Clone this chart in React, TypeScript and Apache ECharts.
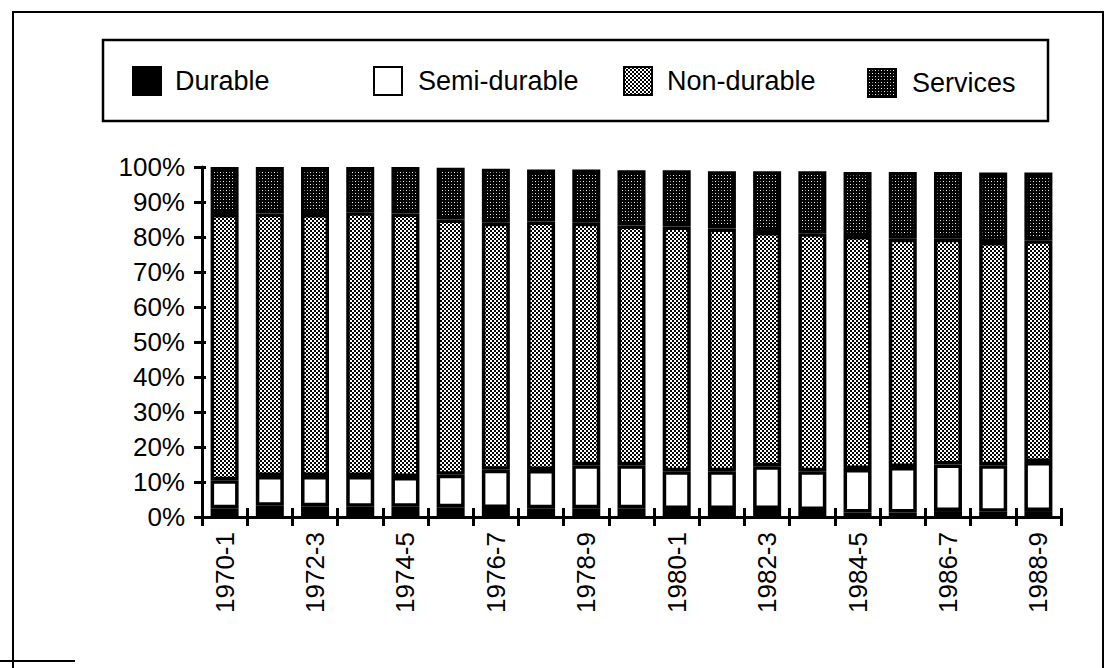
import React, { useEffect, useRef } from "react";
import * as echarts from "echarts";

// Shares of consumer spending by category, per fiscal year (percent)
const categories = [
  "1970-1", "1971-2", "1972-3", "1973-4", "1974-5", "1975-6", "1976-7",
  "1977-8", "1978-9", "1979-80", "1980-1", "1981-2", "1982-3", "1983-4",
  "1984-5", "1985-6", "1986-7", "1987-8", "1988-9",
];
const durable = [2.5, 3.2, 3.1, 2.9, 2.9, 2.8, 2.6, 2.5, 2.5, 2.5, 2.3, 2.3, 2.3, 2.0, 1.3, 1.3, 1.7, 1.5, 1.7];
const semiDurable = [8.0, 8.5, 8.6, 8.8, 8.5, 9.3, 10.9, 10.9, 12.3, 12.3, 10.8, 10.8, 12.2, 11.1, 12.4, 13.0, 13.3, 13.3, 14.0];
const nonDurable = [76.1, 75.0, 74.9, 75.4, 75.3, 72.9, 70.6, 71.0, 69.3, 68.5, 69.9, 69.3, 66.9, 68.0, 66.6, 65.2, 64.5, 63.8, 63.4];
const services = [13.4, 13.3, 13.4, 12.9, 13.3, 14.8, 15.4, 14.9, 15.2, 15.8, 16.1, 16.4, 17.4, 17.7, 18.3, 19.1, 19.1, 19.8, 19.3];

const FONT = "'Liberation Sans', Arial, Helvetica, sans-serif";

// Small repeating bitmap used as a hatched fill
function makePattern(size: number, draw: (ctx: CanvasRenderingContext2D) => void) {
  const c = document.createElement("canvas");
  c.width = size;
  c.height = size;
  const ctx = c.getContext("2d")!;
  draw(ctx);
  return {
    image: c.toDataURL(),
    repeat: "repeat",
    imageWidth: size,
    imageHeight: size,
  } as any;
}

export default function App() {
  const ref = useRef<HTMLDivElement>(null);

  useEffect(() => {
    const chart = echarts.init(ref.current!, null, { renderer: "svg" });

    // fine checkerboard
    const checker = makePattern(4, (ctx) => {
      ctx.fillStyle = "#fff";
      ctx.fillRect(0, 0, 4, 4);
      ctx.fillStyle = "#000";
      ctx.fillRect(0, 0, 2, 2);
      ctx.fillRect(2, 2, 2, 2);
    });
    // near-black fill with sparse light dots
    const dots = makePattern(6, (ctx) => {
      ctx.fillStyle = "#000";
      ctx.fillRect(0, 0, 6, 6);
      ctx.fillStyle = "#fff";
      ctx.fillRect(1, 1, 1, 1);
      ctx.fillRect(4, 4, 1, 1);
      ctx.fillStyle = "#888";
      ctx.fillRect(4, 1, 1, 1);
      ctx.fillRect(1, 4, 1, 1);
    });

    const seriesDefs = [
      { name: "Durable", data: durable, color: "#000" },
      { name: "Semi-durable", data: semiDurable, color: "#fff" },
      { name: "Non-durable", data: nonDurable, color: checker },
      { name: "Services", data: services, color: dots },
    ];

    const legendPos = [
      { name: "Durable", left: 127, pad: 9, top: 61 },
      { name: "Semi-durable", left: 368, pad: 11, top: 61 },
      { name: "Non-durable", left: 618, pad: 10, top: 61 },
      { name: "Services", left: 862, pad: 11, top: 63 },
    ];

    chart.setOption({
      animation: false,
      backgroundColor: "#fff",
      textStyle: { fontFamily: FONT, color: "#000" },
      legend: legendPos.map((l) => ({
        data: [l.name],
        left: l.left,
        top: l.top,
        itemWidth: 28,
        itemHeight: 28,
        icon: "rect",
        selectedMode: false,
        itemStyle: { borderColor: "#000", borderWidth: 2 },
        textStyle: { fontFamily: FONT, fontSize: 27, color: "#000", padding: [8, 0, 0, l.pad] },
      })),
      grid: { left: 202, top: 167, width: 859, height: 350, containLabel: false },
      xAxis: [
        {
          type: "category",
          data: categories,
          axisLine: { lineStyle: { color: "#000", width: 3 } },
          axisTick: { show: true, interval: 0, length: 9, lineStyle: { color: "#000", width: 3 } },
          axisLabel: {
            interval: 1,
            rotate: 90,
            fontFamily: FONT,
            fontSize: 26,
            color: "#000",
            margin: 15,
          },
        },
        {
          type: "category",
          data: categories,
          position: "bottom",
          axisLine: { show: false },
          axisTick: { show: true, interval: 0, inside: true, length: 9, lineStyle: { color: "#000", width: 3 } },
          axisLabel: { show: false },
        },
      ],
      yAxis: [
        {
          type: "value",
          min: 0,
          max: 100,
          interval: 10,
          axisLine: { show: true, lineStyle: { color: "#000", width: 3 } },
          axisTick: { show: true, length: 8, lineStyle: { color: "#000", width: 3 } },
          axisLabel: { formatter: "{value}%", fontFamily: FONT, fontSize: 26, color: "#000", margin: 17 },
          splitLine: { show: false },
        },
        {
          type: "value",
          min: 0,
          max: 100,
          interval: 10,
          position: "left",
          axisLine: { show: false },
          axisTick: { show: true, inside: true, length: 4, lineStyle: { color: "#000", width: 3 } },
          axisLabel: { show: false },
          splitLine: { show: false },
        },
      ],
      series: seriesDefs.map((s) => ({
        name: s.name,
        type: "bar",
        stack: "share",
        xAxisIndex: 0,
        yAxisIndex: 0,
        barWidth: 28,
        data: s.data,
        itemStyle: { color: s.color, borderColor: "#000", borderWidth: 3.5 },
      })),
      graphic: [
        {
          type: "polyline",
          shape: { points: [[13, 668], [13, 12], [1103, 12], [1103, 668]] },
          style: { stroke: "#000", lineWidth: 2, fill: null },
          silent: true,
        },
        {
          type: "rect",
          shape: { x: 103, y: 40, width: 945, height: 81 },
          style: { stroke: "#000", lineWidth: 2.5, fill: null },
          silent: true,
        },
        {
          type: "line",
          shape: { x1: 0, y1: 661, x2: 75, y2: 661 },
          style: { stroke: "#000", lineWidth: 2 },
          silent: true,
        },
      ],
    });

    return () => chart.dispose();
  }, []);

  return (
    <div
      ref={ref}
      style={{ position: "absolute", left: 0, top: 0, width: 1115, height: 668, background: "#fff" }}
    />
  );
}
